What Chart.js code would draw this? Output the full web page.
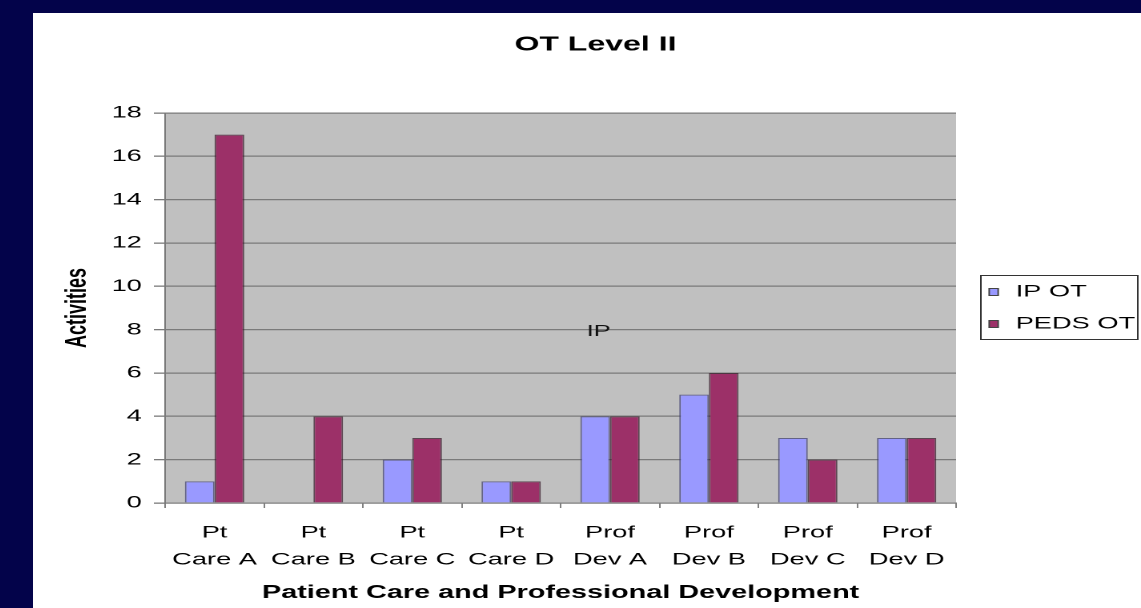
<!DOCTYPE html>
<html>
<head>
<meta charset="utf-8">
<title>OT Level II</title>
<script src="https://cdn.jsdelivr.net/npm/chart.js@4.4.1/dist/chart.umd.min.js"></script>
<style>
    html, body { margin: 0; padding: 0; }
    body { width: 1141px; height: 608px; background: #03034a; overflow: hidden; position: relative; }
    .panel { position: absolute; left: 33px; top: 13px; width: 1108px; height: 595px; background: #fff; overflow: hidden; }
    /* the source picture is stretched sideways, so draw narrow and widen it */
    .stretch { width: 692.5px; height: 595px; transform: scaleX(1.6); transform-origin: 0 0; }
</style>
</head>
<body>
<div class="panel"><div class="stretch"><canvas id="otChart"></canvas></div></div>
<script>
const chartTitle = 'OT Level II';
const xTitle = 'Patient Care and Professional Development';
const yTitle = 'Activities';
const categories = [
    ['Pt', 'Care A'], ['Pt', 'Care B'], ['Pt', 'Care C'], ['Pt', 'Care D'],
    ['Prof', 'Dev A'], ['Prof', 'Dev B'], ['Prof', 'Dev C'], ['Prof', 'Dev D']
];
const seriesNames = ['IP OT', 'PEDS OT'];
const ipOt = [1, 0, 2, 1, 4, 5, 3, 3];
const pedsOt = [17, 4, 3, 1, 4, 6, 2, 3];
const yTicks = [0, 2, 4, 6, 8, 10, 12, 14, 16, 18];
// stray "IP" label inside the plot, as (category position, value)
const noteText = 'IP';
const notePos = [3.885, 7.9];

const FONT = "'Liberation Sans', Arial, sans-serif";

const plotBackground = {
    id: 'plotBackground',
    beforeDraw(chart) {
        const { ctx, chartArea: a } = chart;
        ctx.save();
        ctx.fillStyle = '#c0c0c0';
        ctx.fillRect(a.left, a.top, a.width, a.height);
        ctx.restore();
    }
};

const extras = {
    id: 'extras',
    afterDraw(chart) {
        const { ctx, scales } = chart;
        ctx.save();

        // title
        ctx.fillStyle = '#000';
        ctx.font = `bold 20px ${FONT}`;
        ctx.textAlign = 'center';
        ctx.textBaseline = 'middle';
        ctx.fillText(chartTitle, 351.3, 32);

        // note inside plot
        ctx.font = `16px ${FONT}`;
        ctx.fillStyle = '#111';
        ctx.fillText(noteText, scales.x.getPixelForValue(notePos[0]), scales.y.getPixelForValue(notePos[1]));

        // legend box
        ctx.strokeStyle = '#333';
        ctx.lineWidth = 1;
        ctx.strokeRect(592, 262.5, 98, 64);
        ctx.font = `17px ${FONT}`;
        ctx.textAlign = 'left';
        chart.data.datasets.forEach((ds, i) => {
            const y = 279 + i * 32;
            ctx.fillStyle = ds.backgroundColor;
            ctx.fillRect(597.2, y - 3.5, 5.6, 7);
            ctx.strokeStyle = '#444';
            ctx.strokeRect(597.2, y - 3.5, 5.6, 7);
            ctx.fillStyle = '#000';
            ctx.fillText(ds.label, 613.7, y);
        });

        ctx.restore();
    }
};

new Chart(document.getElementById('otChart'), {
    type: 'bar',
    data: {
        labels: categories,
        datasets: [
            {
                label: seriesNames[0],
                data: ipOt,
                backgroundColor: '#9999ff',
                borderColor: 'rgba(60,60,110,0.7)',
                borderWidth: 1
            },
            {
                label: seriesNames[1],
                data: pedsOt,
                backgroundColor: '#9c3068',
                borderColor: 'rgba(50,20,35,0.7)',
                borderWidth: 1
            }
        ]
    },
    options: {
        responsive: true,
        maintainAspectRatio: false,
        animation: false,
        devicePixelRatio: 2,
        layout: { padding: { top: 100, right: 116, left: 0, bottom: 0 } },
        datasets: { bar: { categoryPercentage: 0.6, barPercentage: 1.0 } },
        plugins: {
            legend: { display: false },
            title: { display: false },
            tooltip: { enabled: false }
        },
        scales: {
            x: {
                grid: { offset: true, drawOnChartArea: false, tickLength: 5, color: '#808080' },
                border: { color: '#808080' },
                ticks: {
                    padding: 11,
                    color: '#000',
                    font: { family: FONT, size: 17, lineHeight: 1.6 },
                    maxRotation: 0,
                    autoSkip: false
                },
                title: {
                    display: true,
                    text: xTitle,
                    color: '#000',
                    font: { family: FONT, size: 18, weight: 'bold' },
                    padding: { top: 0, bottom: 4.2 }
                },
                afterFit: s => { s.height = 105; }
            },
            y: {
                min: yTicks[0],
                max: yTicks[yTicks.length - 1],
                afterBuildTicks: s => { s.ticks = yTicks.map(v => ({ value: v })); },
                grid: { color: '#7a7a7a', tickLength: 7, lineWidth: 1.3 },
                border: { color: '#7a7a7a' },
                ticks: {
                    padding: 7.5,
                    color: '#000',
                    font: { family: FONT, size: 17 }
                },
                title: {
                    display: true,
                    text: yTitle,
                    color: '#000',
                    font: { family: FONT, size: 18, weight: 'bold' },
                    padding: { top: 17.3, bottom: 0 }
                },
                afterFit: s => { s.width = 82.5; }
            }
        }
    },
    plugins: [plotBackground, extras]
});
</script>
</body>
</html>
